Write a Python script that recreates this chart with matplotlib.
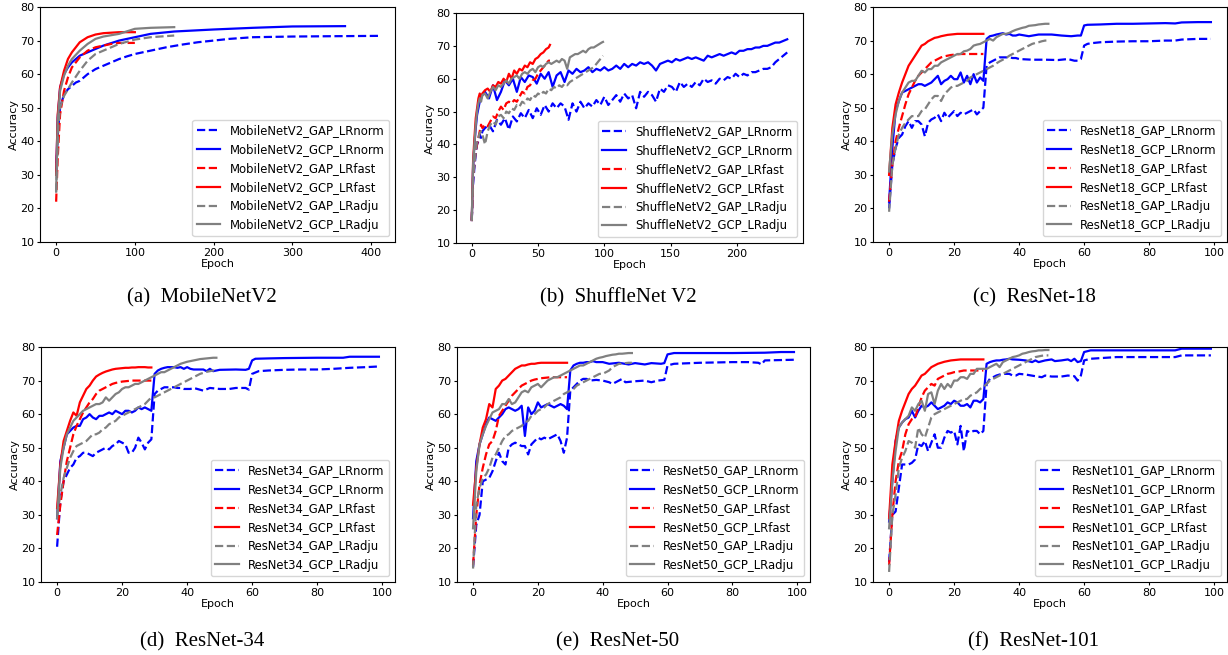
import numpy as np
import matplotlib
matplotlib.use("Agg")
import matplotlib.pyplot as plt

plt.rcParams['font.size'] = 8
plt.rcParams['legend.fontsize'] = 8.4
plt.rcParams['xtick.major.size'] = 2.5
plt.rcParams['ytick.major.size'] = 2.5
plt.rcParams['xtick.major.pad'] = 1.5
plt.rcParams['ytick.major.pad'] = 1.5

# ---------------- (a) MobileNetV2 ----------------
mb_gap_norm_ep = [0, 2, 5, 10, 15, 20, 25, 30, 35, 40, 50, 60, 70, 80, 90, 100, 120, 140, 160, 180, 200, 220, 250, 300, 350, 410]
mb_gap_norm = [30, 42, 50, 54, 55.5, 56.5, 57.5, 58, 59, 60, 61.5, 62.5, 63.5, 64.5, 65.3, 66, 67, 68, 68.8, 69.5, 70, 70.5, 71, 71.2, 71.3, 71.4]
mb_gcp_norm_ep = [0, 2, 5, 10, 15, 20, 30, 40, 50, 60, 80, 100, 120, 150, 200, 250, 300, 367]
mb_gcp_norm = [30, 47, 56, 60, 62, 63.5, 65.5, 66.5, 67.5, 68.5, 70, 71, 72, 72.7, 73.3, 73.8, 74.2, 74.3]
mb_gap_fast_ep = [0, 2, 5, 10, 15, 20, 25, 30, 40, 50, 60, 70, 80, 90, 100]
mb_gap_fast = [22, 35, 48, 55, 59, 62, 63.5, 65, 67, 68, 68.5, 69, 69.3, 69.3, 69.3]
mb_gcp_fast_ep = [0, 2, 5, 10, 15, 20, 25, 30, 40, 50, 60, 80, 100]
mb_gcp_fast = [30, 48, 56, 61, 64.5, 66.5, 68, 69.5, 71, 71.8, 72.2, 72.5, 72.5]
mb_gap_adju_ep = [0, 3, 5, 10, 20, 30, 40, 50, 60, 70, 80, 100, 120, 150]
mb_gap_adju = [25, 45, 50, 53.5, 57.5, 61, 64, 66, 67, 68, 69, 70.3, 71, 71.5]
mb_gcp_adju_ep = [0, 2, 5, 10, 15, 20, 30, 40, 50, 60, 80, 100, 120, 150]
mb_gcp_adju = [25, 46, 55, 59.5, 62.5, 64.5, 67, 69, 70.5, 71.2, 72, 73.5, 73.8, 74]

# ---------------- (b) ShuffleNet V2 ----------------
sh_norm_ep = list(range(0, 9)) + list(range(10, 239, 3))
sh_gap_norm = [17, 28, 33, 37, 40, 41, 43, 42, 44,
               45, 46, 44, 47.5, 46, 48, 44.5, 48.5, 47, 49.5,
               48, 50.5, 48, 51, 49, 52, 50, 52.5, 51, 52.5,
               51.5, 47.5, 52.5, 50, 53, 51, 52.5, 51.5, 53.5, 52,
               54.5, 52, 53.5, 55, 53, 55.5, 54, 55, 51, 56,
               54.5, 56, 55, 53, 57, 56, 58, 57.5, 56, 59,
               57.5, 58.5, 57.5, 59, 58, 60, 59, 59.5, 58.5, 60,
               59.5, 60.5, 60, 61.5, 60.5, 61.5, 61, 62, 62, 62.5,
               63, 63, 63.5, 65, 66, 67, 68]
sh_gcp_norm = [17, 33, 40, 45, 49, 51, 53, 54, 55,
               56, 54, 58, 53.5, 56, 59.5, 58, 60, 56, 60.5,
               59, 61, 60.5, 58.5, 61.5, 60, 62, 57.5, 61, 62,
               59, 62.5, 61.5, 63, 62, 62.5, 63.5, 62, 63, 62.5,
               63.5, 62.5, 63, 64, 63, 64.5, 63.5, 64.5, 64, 65,
               64.5, 65, 64, 62.5, 64.5, 65, 65.5, 65, 66, 65.5,
               66, 66.5, 66, 66.5, 66, 65.5, 67, 66.5, 67, 67.5,
               67, 67.5, 68, 67.5, 68.5, 68.5, 69, 69, 69.5, 69.5,
               70, 70, 70.5, 71, 71, 71.5, 72]
sh_fast_ep = list(range(0, 9)) + list(range(10, 59, 2)) + [59]
sh_gap_fast = [17, 30, 34, 38, 40, 42, 44, 46, 45,
               46, 45.5, 47, 48.5, 48, 50, 51.5, 50.5, 52.5, 53,
               52.5, 53.5, 53, 54.5, 56, 55.5, 57.5, 58, 59.5, 60,
               61.5, 62.5, 63.5, 64.5, 65.5, 65.5]
sh_gcp_fast = [17, 35, 42, 48, 51, 54, 55.5, 54.5, 55.5,
               56.5, 57, 56, 58, 57.5, 59, 58.5, 60, 59, 61.5,
               60, 62.5, 61.5, 63, 62.5, 64, 63.5, 65, 64.5, 66,
               66.5, 67.5, 68, 69, 69.5, 70.3]
sh_adju_ep = list(range(0, 9)) + list(range(10, 99, 2)) + [99]
sh_gap_adju = [17, 30, 34, 38, 41, 42, 43.5, 44, 43,
               40, 44, 46, 47, 46, 48.5, 49, 48, 50, 49.5,
               51, 50.5, 52, 51.5, 53, 52.5, 54, 53.5, 55, 54.5,
               55.5, 55, 56, 55.5, 57, 56.5, 57.5, 57, 58, 57.5,
               58.5, 58, 59, 59.5, 60, 60.5, 61, 61.5, 62, 62.5,
               63, 63.5, 64.5, 65.5, 66.5, 67]
sh_gcp_adju = [17, 34, 40, 46, 50, 52.5, 54, 53, 55,
               55.5, 54, 56, 57.5, 56.5, 58, 57.5, 58.5, 59.5, 58.5,
               60, 60.5, 61, 60, 61.5, 62, 61.5, 62.5, 63, 62,
               63.5, 64, 63.5, 64.5, 65, 64.5, 65, 65.5, 65, 66,
               65.5, 63, 66.5, 67, 67.5, 67.5, 68, 68.5, 68, 69,
               69.5, 69.5, 70, 70.5, 71, 71.2]

# ---------------- (c) ResNet-18 ----------------
r18_gap_norm_head = [20, 33, 38, 41, 42, 44.5, 46, 44, 46, 46, 45, 41.5, 45.5, 46.5, 47, 48, 46, 48.5, 47, 48,
                     49, 47.5, 48.5, 48, 48.5, 49, 49.5, 48, 49, 50, 62.5, 63.5, 64, 64.5, 65, 65, 65, 65, 64.8, 64.8, 64.5]
r18_gap_norm_tail_ep = [44, 48, 52, 55, 57, 58, 59, 60, 61, 62, 65, 70, 75, 80, 85, 88, 90, 95, 99]
r18_gap_norm_tail = [64.3, 64.3, 64.2, 64.5, 64, 64, 64.5, 68.5, 69, 69.2, 69.5, 69.7, 69.8, 69.8, 70, 70, 70.3, 70.5, 70.5]
r18_gcp_norm_head = [22, 38, 49, 52, 54.5, 55, 55.5, 56, 56.5, 57, 57, 56.5, 57, 57.5, 58.5, 59.5, 57, 58, 58.5, 59.5,
                     58.5, 58.5, 60.5, 57.5, 59.5, 57, 60, 57.5, 59, 58, 70.5, 71.3, 71.5, 71.8, 72, 72.2, 71.8, 72, 71.5, 71.5, 71.8]
r18_gcp_norm_tail_ep = [43, 46, 50, 53, 56, 58, 59, 60, 61, 65, 70, 75, 80, 85, 88, 90, 95, 99]
r18_gcp_norm_tail = [71.3, 71.8, 71.8, 71.5, 71.3, 71.5, 71.5, 74.5, 74.7, 74.8, 75, 75, 75.1, 75.2, 75.1, 75.4, 75.5, 75.5]
r18_gap_fast = [22, 33, 40, 44, 47.5, 51, 54, 56, 58, 59.5, 60.5, 61.5, 62.5, 63.5, 64, 64.5, 65, 65.3, 65.5, 65.7,
                65.8, 65.9, 66, 66, 66, 66, 66, 66, 66, 66]
r18_gcp_fast = [30, 44, 51, 54.5, 57.5, 60, 62.5, 64, 65.5, 67, 68.5, 69, 69.8, 70.3, 70.8, 71, 71.3, 71.5, 71.7, 71.8,
                71.9, 72, 72, 72, 72, 72, 72, 72, 72, 72]
r18_gap_adju = [19, 33, 38, 42, 44, 45.5, 46.5, 47.5, 47.5, 47.5, 49, 49.5, 51, 52.5, 53.5, 53.5, 52, 54, 55, 56,
                56.5, 56.5, 57, 57.5, 58, 59, 59.5, 60, 60.5, 61, 61.5, 62, 62.5, 63.2, 63.8, 64.3, 64.8, 65.5, 66, 66.5,
                67, 67.5, 68, 68.5, 69, 69.3, 69.5, 69.8, 70, 70]
r18_gcp_adju = [31, 42, 48, 52, 54.5, 56, 57.5, 58, 58, 59.5, 61, 60.5, 61.5, 61.5, 62.5, 62.5, 63.5, 64, 64.5, 65,
                65.5, 66, 66, 66.8, 67, 67.5, 68.5, 68.8, 69, 69.5, 70, 70.5, 70, 71, 71.5, 72, 72, 72.3, 72.8, 73.2,
                73.5, 73.8, 74, 74.4, 74.5, 74.6, 74.8, 74.9, 75, 75]

# ---------------- (d) ResNet-34 ----------------
r34_gap_norm_head = [20.5, 34, 40, 42, 44, 45, 47, 47.5, 48.5, 48.5, 48, 47.5, 48.5, 49, 49.5, 50, 49.5, 50.5, 51, 52,
                     51.5, 51, 48.5, 48.5, 50, 53, 51.5, 49.5, 51.5, 52.5, 66, 67, 67.5, 68, 68, 68, 68, 67.8, 67.8, 67.5,
                     67.5, 67.5, 67.8]
r34_gap_norm_tail_ep = [45, 47, 50, 53, 55, 58, 59, 60, 62, 65, 70, 75, 80, 85, 90, 95, 99]
r34_gap_norm_tail = [67, 67.8, 67.5, 67.5, 67.8, 67.8, 67.3, 72, 72.8, 73, 73.2, 73.3, 73.3, 73.5, 73.8, 74, 74.2]
r34_gcp_norm_head = [29, 46, 50, 54, 55, 56, 56.5, 56.5, 58.5, 59, 60, 59, 58.5, 59.5, 59.5, 60, 60.5, 60, 61, 60.5,
                     60, 61, 61, 60.5, 61, 62, 61.5, 62, 61.5, 61, 72, 73, 73.5, 73.8, 74, 74, 74, 73.8, 74, 73.5,
                     74, 73.5, 73.3]
r34_gcp_norm_tail_ep = [45, 46, 47, 48, 50, 55, 58, 59, 60, 61, 65, 70, 80, 88, 90, 99]
r34_gcp_norm_tail = [73.3, 72.8, 73.5, 72.8, 73.2, 73.3, 73.2, 73.5, 76, 76.5, 76.6, 76.7, 76.8, 76.8, 77.1, 77.1]
r34_gap_fast = [24, 33, 40, 46, 50, 54, 56.5, 58.5, 60.5, 62, 63.5, 64.5, 66, 67, 67.5, 68, 68.5, 69, 69.3, 69.5,
                69.7, 69.8, 69.9, 70, 70, 70, 70, 70, 70, 70]
r34_gcp_fast = [32, 45, 52, 55, 58, 60.5, 59.5, 63.5, 65.5, 67.5, 68.5, 70, 71.2, 71.8, 72.3, 72.7, 73, 73.3, 73.5, 73.6,
                73.7, 73.8, 73.8, 73.9, 73.9, 74, 74, 74, 73.9, 73.9]
r34_gap_adju = [30, 36, 41, 44, 47, 49, 50.5, 51, 51.5, 52, 53, 54, 54, 54.5, 55.5, 56, 57, 57.5, 58, 59,
                59.5, 60, 60.5, 61, 61.5, 62, 62.5, 63, 64, 65, 65, 65.5, 66, 66.5, 67, 67.5, 68, 68.5, 69, 69.5,
                70, 70.5, 71, 71.5, 72, 72.3, 72.6, 72.8, 73, 73]
r34_gcp_adju = [29, 44, 50, 54, 56, 58, 59, 60, 61, 61.5, 62, 62.5, 63, 63, 63.5, 65, 64, 65, 66, 66.5,
                67.5, 68, 68, 68.5, 69, 69, 69.5, 70, 70.5, 71, 71.5, 72, 72.5, 72.5, 73, 73.5, 74, 74.5, 75, 75.3,
                75.6, 75.8, 76, 76.2, 76.4, 76.5, 76.6, 76.7, 76.8, 76.8]

# ---------------- (e) ResNet-50 ----------------
r50_gap_norm_head = [14.5, 27, 30, 40, 40.5, 41, 43, 46, 48.5, 46, 45, 50, 51, 51.5, 51, 50.5, 50.5, 48, 51, 52,
                     53, 52.5, 53, 52.5, 53, 53.5, 54, 52, 48.5, 53, 67, 68, 69, 70, 70.5, 70.5, 70]
r50_gap_norm_tail_ep = [38, 40, 42, 43, 45, 46, 47, 50, 53, 55, 57, 59, 60, 62, 70, 80, 85, 88, 89, 90, 99]
r50_gap_norm_tail = [70.2, 70, 69.5, 69, 70, 70.5, 69.5, 69.8, 70, 69.5, 70, 70.2, 74.5, 75, 75.3, 75.5, 75.5, 75.3, 74.8, 76, 76.2]
r50_gcp_norm_head = [29, 46, 51, 54, 57, 59, 58.5, 58, 59, 60, 61.5, 62, 61.5, 61, 61.5, 62.5, 53.5, 62, 60, 61,
                     63.5, 62, 62.5, 63, 62.5, 62, 62.5, 63, 62.5, 61.5, 73, 74.5, 75, 75.3, 75.3, 75.5, 75.5, 75.8]
r50_gcp_norm_tail_ep = [38, 40, 42, 45, 48, 50, 53, 55, 58, 59, 60, 62, 70, 80, 90, 95, 99]
r50_gcp_norm_tail = [75.5, 75.5, 75, 75.3, 74.8, 75.2, 74.8, 75.2, 75, 75.2, 77.8, 78.2, 78.2, 78.2, 78.3, 78.5, 78.5]
r50_gap_fast = [15, 30, 39, 44, 48, 51, 52, 55, 59.5, 61, 62.5, 64, 65.5, 66.5, 67.5, 68.5, 69, 69.5, 70, 70.3,
                70.5, 70.7, 70.8, 70.9, 71, 71, 71, 71, 71, 71]
r50_gcp_fast = [33, 44, 51, 56, 58.5, 63, 62, 67.5, 68.5, 70, 70.5, 71.5, 72.5, 73.5, 74, 74.5, 74.5, 74.8, 75, 75,
                75.2, 75.3, 75.3, 75.3, 75.3, 75.3, 75.3, 75.3, 75.3, 75.3]
r50_gap_adju = [14, 33, 38, 41, 42, 44, 47, 48, 50, 52, 53.5, 54, 55, 55.5, 56, 56.5, 57.5, 58, 59.5, 60,
                61, 61.5, 62, 63, 63.5, 64, 64.5, 65, 66, 66.5, 67, 67.5, 68.5, 69, 69.5, 70, 70.5, 71, 71.5, 72,
                72, 72.5, 73, 74, 74.5, 75, 75, 75.2, 75.3, 75.3]
r50_gcp_adju = [26, 43, 51, 54, 56.5, 58.5, 60.5, 61, 61.5, 63, 63, 64.5, 63, 63.5, 65, 66.5, 67, 66.5, 68, 68.5,
                69, 68, 69, 70, 70.5, 71, 71, 71.5, 72, 72.5, 73, 73.5, 74, 74.5, 74.5, 75, 75.5, 76, 76.5, 76.8,
                77, 77.3, 77.5, 77.7, 77.8, 78, 78, 78.1, 78.2, 78.2]

# ---------------- (f) ResNet-101 ----------------
r101_gap_norm_head = [16, 30, 31, 38, 45, 45, 45, 45.5, 46.5, 51, 50.5, 52, 49, 51.5, 54, 50, 50, 53, 55, 54.5,
                      55, 51, 56.5, 49, 55, 54.5, 55, 55, 54, 55, 69, 70.5, 71, 71.5, 71.8, 72, 72, 72, 71.5, 71.5, 72]
r101_gap_norm_tail_ep = [42, 45, 47, 48, 50, 53, 55, 57, 58, 59, 60, 62, 70, 80, 88, 90, 99]
r101_gap_norm_tail = [71.8, 71.3, 71, 71.5, 71.2, 71.2, 71.5, 71.3, 70, 71.5, 76, 76.5, 77, 77, 77, 77.5, 77.5]
r101_gcp_norm_head = [28, 40, 52, 56, 57.5, 58.5, 59, 61, 59, 61, 62.5, 62, 62.5, 63.5, 62.5, 61.5, 62, 62.5, 63.5, 63,
                      64, 63.5, 62.5, 62.5, 63, 62, 64, 64, 63.5, 64.5, 75, 75.5, 75.8, 76, 76, 76.2, 76.3, 76.5, 76.3]
r101_gcp_norm_tail_ep = [40, 42, 44, 45, 46, 48, 50, 51, 53, 55, 56, 57, 58, 59, 60, 62, 70, 80, 88, 90, 99]
r101_gcp_norm_tail = [76.2, 76, 75.5, 76, 75.5, 76, 76.3, 75.8, 76, 76.3, 75.8, 76.5, 75.5, 75.8, 78.5, 79, 79, 79, 79, 79.5, 79.5]
r101_gap_fast = [15, 30, 40, 46, 49, 54, 57, 58.5, 59, 62, 65, 67, 68, 69, 68.5, 70.5, 71, 71.5, 72, 72.2,
                 72.5, 72.6, 72.8, 73, 73, 73, 73, 73, 73, 73]
r101_gcp_fast = [29, 45, 52, 58, 61, 63.5, 66, 67.5, 68.5, 70, 71.5, 72, 73, 74, 74.5, 75, 75.3, 75.6, 75.8, 76,
                 76.1, 76.2, 76.3, 76.3, 76.3, 76.3, 76.3, 76.3, 76.3, 76.3]
r101_gap_adju = [13, 30, 36, 44, 47, 49, 52, 51.5, 50, 56, 54, 53, 56, 59, 60, 60.5, 61, 61.5, 62, 62.5,
                 63, 63.5, 64, 64.5, 64.5, 65.5, 66, 66.5, 67.5, 68, 69, 70, 70.5, 71, 71.5, 72, 72.5, 73, 73.5, 74,
                 74.5, 75, 75.5, 76, 76.5, 77, 77.2, 77.4, 77.5, 77.5]
r101_gcp_adju = [26, 40, 49, 56, 57.5, 58.5, 59.5, 62, 61, 63, 64, 61, 66, 66.5, 63, 67, 69, 67.5, 69, 68,
                 70, 70, 71, 71, 70.5, 72, 72, 73.5, 73.5, 73.5, 73.5, 74, 74.5, 75, 74, 75.5, 76, 76.5, 77, 77.2,
                 77.5, 78, 78.2, 78.5, 78.7, 78.8, 79, 79, 79.1, 79.1]


def resnet_curves(gap_head, gap_tail_ep, gap_tail, gcp_head, gcp_tail_ep, gcp_tail,
                  gap_fast, gcp_fast, gap_adju, gcp_adju):
    gap_ep = list(range(len(gap_head))) + gap_tail_ep
    gcp_ep = list(range(len(gcp_head))) + gcp_tail_ep
    return [
        (gap_ep, gap_head + gap_tail),
        (gcp_ep, gcp_head + gcp_tail),
        (list(range(len(gap_fast))), gap_fast),
        (list(range(len(gcp_fast))), gcp_fast),
        (list(range(len(gap_adju))), gap_adju),
        (list(range(len(gcp_adju))), gcp_adju),
    ]


panels = [
    ("MobileNetV2", "(a)  MobileNetV2", [
        (mb_gap_norm_ep, mb_gap_norm), (mb_gcp_norm_ep, mb_gcp_norm),
        (mb_gap_fast_ep, mb_gap_fast), (mb_gcp_fast_ep, mb_gcp_fast),
        (mb_gap_adju_ep, mb_gap_adju), (mb_gcp_adju_ep, mb_gcp_adju)]),
    ("ShuffleNetV2", "(b)  ShuffleNet V2", [
        (sh_norm_ep, sh_gap_norm), (sh_norm_ep, sh_gcp_norm),
        (sh_fast_ep, sh_gap_fast), (sh_fast_ep, sh_gcp_fast),
        (sh_adju_ep, sh_gap_adju), (sh_adju_ep, sh_gcp_adju)]),
    ("ResNet18", "(c)  ResNet-18", resnet_curves(
        r18_gap_norm_head, r18_gap_norm_tail_ep, r18_gap_norm_tail,
        r18_gcp_norm_head, r18_gcp_norm_tail_ep, r18_gcp_norm_tail,
        r18_gap_fast, r18_gcp_fast, r18_gap_adju, r18_gcp_adju)),
    ("ResNet34", "(d)  ResNet-34", resnet_curves(
        r34_gap_norm_head, r34_gap_norm_tail_ep, r34_gap_norm_tail,
        r34_gcp_norm_head, r34_gcp_norm_tail_ep, r34_gcp_norm_tail,
        r34_gap_fast, r34_gcp_fast, r34_gap_adju, r34_gcp_adju)),
    ("ResNet50", "(e)  ResNet-50", resnet_curves(
        r50_gap_norm_head, r50_gap_norm_tail_ep, r50_gap_norm_tail,
        r50_gcp_norm_head, r50_gcp_norm_tail_ep, r50_gcp_norm_tail,
        r50_gap_fast, r50_gcp_fast, r50_gap_adju, r50_gcp_adju)),
    ("ResNet101", "(f)  ResNet-101", resnet_curves(
        r101_gap_norm_head, r101_gap_norm_tail_ep, r101_gap_norm_tail,
        r101_gcp_norm_head, r101_gcp_norm_tail_ep, r101_gcp_norm_tail,
        r101_gap_fast, r101_gcp_fast, r101_gap_adju, r101_gcp_adju)),
]

suffixes = ["GAP_LRnorm", "GCP_LRnorm", "GAP_LRfast", "GCP_LRfast", "GAP_LRadju", "GCP_LRadju"]
colors = ["blue", "blue", "red", "red", "gray", "gray"]
styles = ["--", "-", "--", "-", "--", "-"]

W, H = 1228, 655
# axes boxes in pixels: left, top, right, bottom
boxes = [(40, 7, 395, 242), (456, 13, 803, 243), (873, 7, 1227, 242),
         (41, 347, 395, 582), (457, 347, 810, 582), (873, 347, 1227, 582)]
caption_pos = [(202, 298), (618, 298), (1034, 298), (202, 642), (618, 642), (1033, 642)]

fig = plt.figure(figsize=(W / 100, H / 100), dpi=100)

for (name, caption, curves), (l, t, r, b), (cx, cy) in zip(panels, boxes, caption_pos):
    ax = fig.add_axes([l / W, 1 - b / H, (r - l) / W, (b - t) / H])
    for (x, y), suf, c, ls in zip(curves, suffixes, colors, styles):
        ax.plot(x, y, color=c, linestyle=ls, linewidth=1.6, label=f"{name}_{suf}")
    ax.set_ylim(10, 80)
    ax.set_yticks(range(10, 81, 10))
    ax.set_xlabel("Epoch", labelpad=1)
    ax.set_ylabel("Accuracy", labelpad=1)
    ax.legend(loc="lower right")
    fig.text(cx / W, 1 - cy / H, caption, ha="center", va="center",
             family="Liberation Serif", fontsize=15)

fig.savefig("out.png", dpi=100)
